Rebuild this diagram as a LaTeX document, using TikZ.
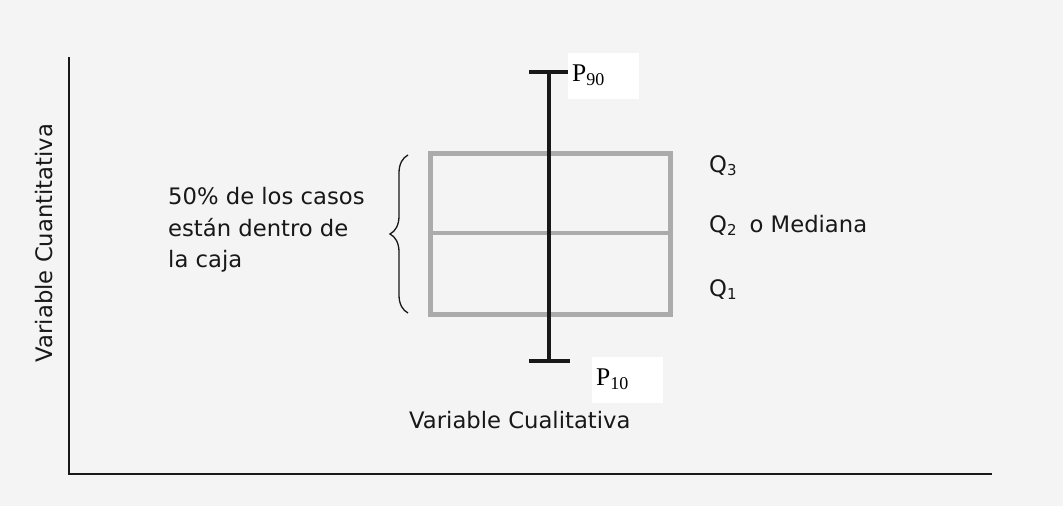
\documentclass[tikz,border=0pt]{standalone}
\usepackage{fontspec}
\setmainfont{DejaVu Sans}
\newfontfamily\serifp{Liberation Serif}
\usetikzlibrary{decorations.pathreplacing}
\definecolor{bg}{HTML}{F4F4F4}
\definecolor{boxgray}{HTML}{ABABAB}
\definecolor{ink}{HTML}{181818}
\newcommand\qsub[1]{\raisebox{-3pt}{\fontsize{15}{15}\selectfont #1}}
\newcommand\psub[1]{\raisebox{-4.5pt}{\fontsize{18}{18}\selectfont #1}}
\begin{document}
\begin{tikzpicture}[x=1pt,y=-1pt,
  lab/.style={inner sep=0pt,anchor=base west,text=ink,font=\fontsize{22.7}{26}\selectfont},
  plab/.style={inner sep=0pt,anchor=base west,text=black,font=\serifp\fontsize{25.5}{28}\selectfont},
  whitebg/.style={fill=white,draw=none,inner sep=0pt,anchor=north west},
  axis/.style={ink,line width=1.8pt},
  boxline/.style={boxgray,line width=5pt},
  whisk/.style={ink,line width=3.5pt}]
\fill[bg] (0,0) rectangle (1063,506);
\useasboundingbox (0,0) rectangle (1063,506);
% axes
\coordinate (ytop) at (69,57);
\coordinate (orig) at (69,474);
\coordinate (xend) at (992,474);
\draw[axis] (ytop) -- (orig) -- (xend);
% box
\coordinate (bl) at (430,314);
\coordinate (tr) at (670,153);
\coordinate (ml) at (430,233);
\coordinate (mr) at (670,233);
\draw[boxline] (bl) rectangle (tr);
\draw[boxgray,line width=4pt] (ml) -- (mr);
% whisker
\coordinate (wt) at (549,72);
\coordinate (wb) at (549,361);
\coordinate (ct1) at (529,72);
\coordinate (ct2) at (568,72);
\coordinate (cb1) at (529,361);
\coordinate (cb2) at (570,361);
\draw[whisk] (wt) -- (wb);
\draw[whisk] (ct1) -- (ct2);
\draw[whisk] (cb1) -- (cb2);
% percentile labels
\node[whitebg,minimum width=71pt,minimum height=46pt] (p90bg) at (568,53) {};
\node[plab] (p90) at (572,81) {P\psub{90}};
\node[whitebg,minimum width=71pt,minimum height=46pt] (p10bg) at (592,357) {};
\node[plab] (p10) at (596,385) {P\psub{10}};
% brace
\coordinate (brb) at (408,313);
\coordinate (brt) at (408,155);
\draw[ink,line width=1.3pt,decorate,decoration={brace,amplitude=18pt}] (brb) -- (brt);
% left text
\node[lab] (t1) at (168,204) {50\% de los casos};
\node[lab] (t2) at (168,236) {están dentro de};
\node[lab] (t3) at (168,267) {la caja};
% quartile labels
\node[lab] (q3) at (709,172) {Q\qsub{3}};
\node[lab] (q2) at (709,232) {Q\qsub{2}\hspace{13pt}o Mediana};
\node[lab] (q1) at (709,296) {Q\qsub{1}};
% axis labels
\node[lab,anchor=base west] (xl) at (409,428) {Variable Cualitativa};
\node[inner sep=0pt,text=ink,font=\fontsize{22.7}{26}\selectfont,rotate=90] (yl) at (44,243) {Variable Cuantitativa};
\end{tikzpicture}
\end{document}
